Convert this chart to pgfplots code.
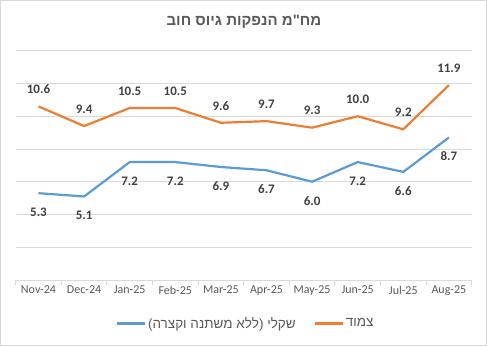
\documentclass[border=0pt]{standalone}
\usepackage{pgfplots}
\pgfplotsset{compat=1.18}
\usepackage{fontspec}
\setmainfont{Carlito}
\newfontfamily\hebfont[Script=Hebrew]{Liberation Sans}
\TeXXeTstate=1
\definecolor{cblue}{RGB}{91,155,213}
\definecolor{corange}{RGB}{237,125,49}
\definecolor{gridc}{RGB}{217,217,217}
\definecolor{txt}{RGB}{89,89,89}
\definecolor{lab}{RGB}{64,64,64}
\pgfplotstableread{
x orange blue
0 10.6 5.3
1 9.4 5.1
2 10.5 7.2
3 10.5 7.2
4 9.6 6.9
5 9.7 6.7
6 9.3 6.0
7 10.0 7.2
8 9.2 6.6
9 11.9 8.7
}\datatab
\begin{document}
\begin{tikzpicture}[x=1pt,y=1pt]
\path[use as bounding box] (0,0) rectangle (487,346);
\draw[gridc, line width=0.8pt] (0.4,0.4) rectangle (486.6,345.6);
\begin{axis}[
  /pgf/number format/assume math mode=true,
  at={(15.7pt,66pt)}, anchor=south west,
  scale only axis, width=456pt, height=229.3pt,
  xmin=-0.5, xmax=9.5, ymin=0, ymax=14,
  ytick={0,2,...,14}, yticklabels={}, ymajorgrids,
  grid style={gridc, line width=0.8pt},
  axis line style={draw=none},
  major tick length=0pt,
  xtick={0,...,9},
  xticklabels={Nov-24,Dec-24,Jan-25,Feb-25,Mar-25,Apr-25,May-25,Jun-25,Jul-25,Aug-25},
  xticklabel style={font=\fontsize{12}{13}\selectfont, text=txt, yshift=-2.5pt},
  extra x ticks={-0.5,0.5,...,9.5},
  extra x tick labels={},
  extra x tick style={major tick length=5pt, tick align=outside, tick pos=bottom, tick style={gridc, line width=0.8pt}},
  clip=false,
  nodes near coords={\pgfmathprintnumber[fixed,fixed zerofill,precision=1,assume math mode=true]{\pgfplotspointmeta}},
  every node near coord/.append style={font=\bfseries\fontsize{13}{13}\selectfont, text=lab, anchor=center},
  legend columns=2,
  legend style={at={(0.5,-0.0)}, anchor=north, xshift=2pt, yshift=-33pt, draw=none, fill=none,
    font=\fontsize{13.5}{15}\selectfont, text=txt,
    /tikz/every even column/.append style={column sep=16pt}},
  legend cell align=left,
  legend image code/.code={\draw[#1, line width=2.2pt] (0pt,0pt) -- (28pt,0pt);},
]
\addplot[cblue, line width=2.2pt, mark=none,
  every node near coord/.append style={yshift=-19pt}] table[x=x, y=blue] {\datatab};
\addlegendentry{\hebfont\beginR שקלי (ללא משתנה וקצרה)\endR}
\addplot[corange, line width=2.2pt, mark=none,
  every node near coord/.append style={yshift=17pt}] table[x=x, y=orange] {\datatab};
\addlegendentry{\hebfont\beginR צמוד\endR}
\end{axis}
\node[text=txt, font=\hebfont\bfseries\fontsize{15}{18}\selectfont] at (244,324) {\beginR מח"מ הנפקות גיוס חוב\endR};
\end{tikzpicture}
\end{document}
